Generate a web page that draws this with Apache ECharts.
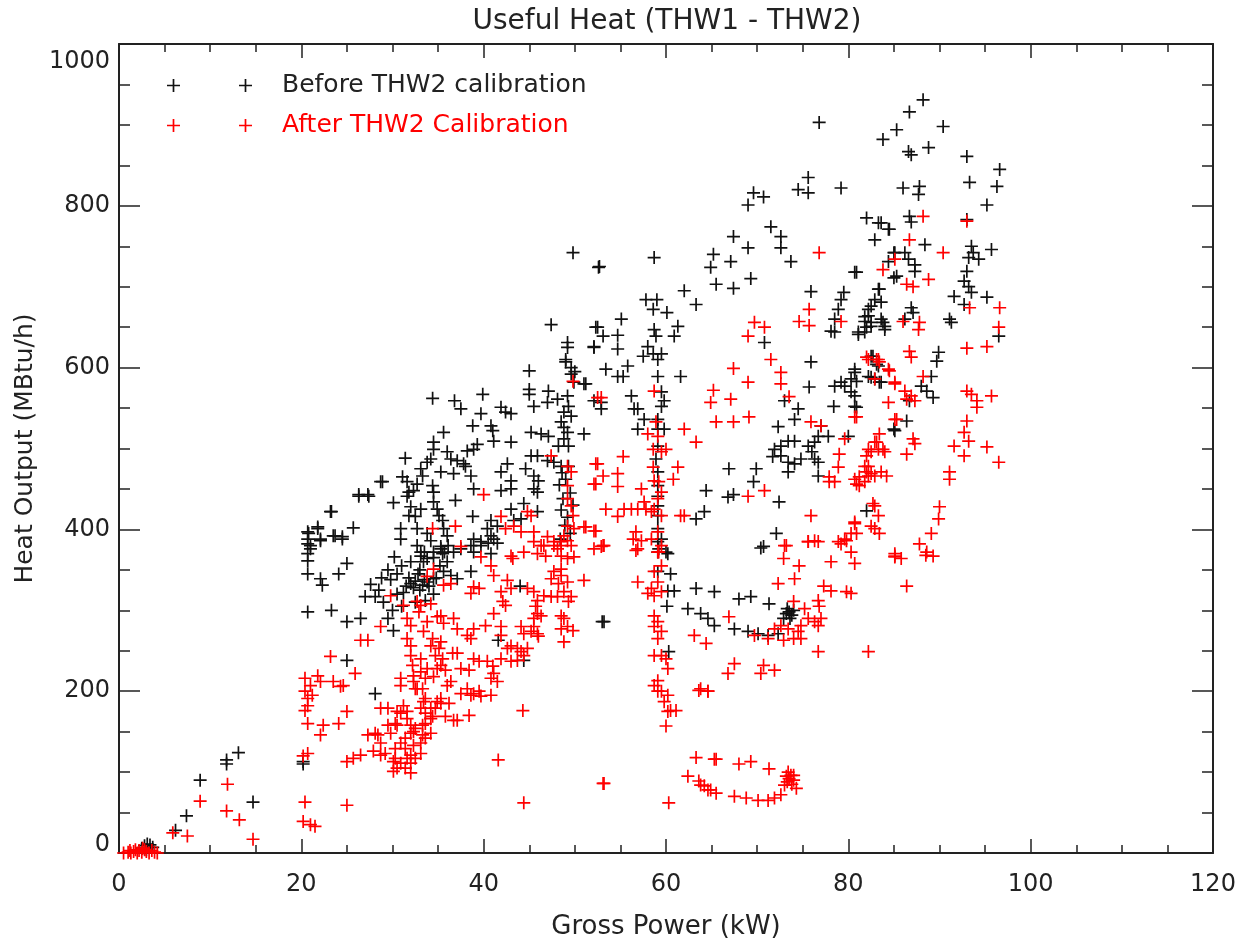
<!DOCTYPE html>
<html>
<head>
<meta charset="utf-8">
<script src="https://cdn.jsdelivr.net/npm/echarts@6/dist/echarts.min.js"></script>
<style>
html,body{margin:0;padding:0;background:#fff;}
#chart{width:1244px;height:945px;}
</style>
</head>
<body>
<div id="chart"></div>
<script>
// ---- data ----
const titleText = 'Useful Heat (THW1 - THW2)';
const xName = 'Gross Power (kW)';
const yName = 'Heat Output (MBtu/h)';
const seriesNames = ['Before THW2 calibration', 'After THW2 Calibration'];
const xTicks = [0, 20, 40, 60, 80, 100, 120];
const yTicks = [0, 200, 400, 600, 800, 1000];

const beforeData = [
[2.5,6],[2.8,9],[3.1,11],[3.4,10],[3.7,7],[3.0,4],
[6.2,28],[7.4,46],[8.9,90],[11.8,115],[11.8,110],[13.1,124],[14.7,63],[20.2,113],[20.2,110],
[25,238],[28.1,197],[20.7,298],[23.3,300],[20.7,345],[22.1,339],[22.3,331],[24.1,345],[25,358],[20.7,361],[20.7,370],[21,376],[20.7,382],[20.8,395],[21.8,401],[22.1,386],[23.3,422],[23.5,392],[24.5,388],[25.7,402],[26.3,443],[27.3,443],[28.9,459],[30.1,433],[30.9,401],[30.9,388],
[27,317],[28.1,317],[25,286],[26.5,290],[29.5,290],[30.1,275],
[31.5,330],[32,333],[32.3,328],[31.8,340],[32.5,336],[33,325],[31.2,322],[32.8,345],[33.5,338],[30.5,345],[31,355],[32,360],[33,350],[34,330],[34.5,320],[33.6,312],[32.5,310],[31,305],[30,300],[29,310],[28.5,325],[29.8,338],[30.5,320],[34.8,340],[35.2,355],[35.5,370],[36,360],[33.5,372],[34.5,365],[30.2,366],[29.5,350],[28.8,340],[27.6,332],
[33.1,367],[33.4,360],[33.8,364],[34.5,372],[35.3,376],[36.1,380],[36.7,372],[37.5,376],[38.6,380],[38.9,372],[39.7,380],[40.5,383],[40.8,370],[41.5,383],[35.6,348],[36.4,343],[37.1,339],[38.6,348],[34.5,339],[33.8,335],[33.3,331],
[44,330],[41.6,263],[44.4,238],[53,286],
[47.4,653],[52.3,650],[49.2,631],[49.2,625],[52.1,625],[49,610],[49,607],[45,596],[49.6,592],[51.2,580],[45,573],[45,567],[39.9,567],[34.4,562],[36.8,559],[37.5,549],[41.9,551],[43,543],[42.4,545],[39.7,543],[45.5,552],[47,557],[47.1,571],[48.1,561],[49.2,565],[49.3,552],[48.8,545],[49.6,540],[48.5,533],[48.8,526],[49.2,520],[48.8,512],[48.2,503],[49.3,503],[51,518],[45.2,520],[46.3,518],[47.1,515],[38.8,528],[40.8,528],[41,522],[35.6,520],[41.1,509],[43,508],[34.5,508],[34.5,499],[39.3,505],[38.9,499],[38.2,497],[36,496],[36.4,487],[37.1,485],[37.8,481],[31.4,488],[33.8,483],[34.2,487],[33.1,475],[33.3,466],[42.6,481],[45.2,491],[45.9,491],[47,485],[47.7,483],[48.5,478],[49.3,478],[41.9,471],[44.6,475],[45.5,466],[46,460],[35.3,471],[36.7,469],[38,478],[38.6,466],[31.1,465],[31.6,459],[28.7,459],[43,460],[38.9,450],[32.7,456],[32.3,448],[31.8,446],[31.6,441],[34.4,454],[34.5,446],[45.5,450],[45.9,446],[41.9,448],[43,450],[26.3,441],[27.4,441],[36.9,436],[34.5,434],[34.9,425],[32,428],[33.1,425],[23.2,422],[43,425],[44.4,432],[45.9,422],[31.8,417],[32.5,416],[35.1,417],[35.5,411],[38.8,416],[40.8,411],[41.5,404],[43.3,411],[44.1,413],[21.8,403],[20.7,397],[22.1,388],[20.7,388],[21,380],[23.7,392],[24.5,391],[32.7,401],[33.8,395],[34.2,386],[35.6,401],[36,392],[40.4,401],[40.8,392],[41.1,388],[39.7,385],[32.7,380],[33.1,372],[35.3,379],[35.7,372],[38.9,388],
[48.6,470],[49,462],[48.3,455],[49.5,445],[48.7,438],[49.8,430],[48.5,424],[49.2,415],[48.9,405],[49.5,395],[48.4,388],[49.9,582],[50,595],[49.6,600],
[59.2,376],[60.2,370],[59.1,348],[60.5,345],[60.2,324],[60.9,324],[63.3,327],[65.3,323],[60.1,305],[62.4,302],[63.8,296],[64.6,290],[65.3,281],[60.3,249],[70.4,377],[59.1,385],[60,372],[68,314],[69.3,317],[71.3,308],[67.5,277],[69,274],[70.1,271],[71.2,269],[72.3,271],[73.5,298],[73.3,302],[73.8,294],[73.6,290],[73.2,296],[74,300],[72.9,290],[53.2,286],
[71.5,774],[67.4,762],[72.6,762],[72.6,748],[69,748],[65.2,740],[64.9,724],[67.1,731],[73.7,731],[58.7,736],[52.6,724],[65.5,703],[67.4,698],[69.3,710],[62,695],[63.3,678],[57.8,684],[59,684],[58.6,672],[60.1,668],[55.1,660],[52.5,650],[53.1,639],[54.7,640],[52.1,626],[54.7,623],[58.7,647],[58.9,639],[61.3,651],[60.9,639],[58,626],
[57.5,614],[58.6,617],[59.5,617],[59.1,610],[53.4,598],[54.7,589],[55.3,589],[55.8,602],[59.1,589],[61.6,589],[51,580],[52.1,559],[52.9,557],[52.9,549],[56.2,565],[56.9,549],[56.5,549],[59.5,570],[59.8,559],[59.5,552],[57.6,536],[59.1,536],[56.9,524],[59.1,524],[59.8,524],[59.1,503],[58.9,487],
[59.1,471],[59.1,454],[59.1,441],[59.1,429],[59.1,417],[59.1,401],[59.5,388],[59.1,372],
[70.8,631],[75.9,694],[79.5,693],[79.2,684],[78.9,672],[78.5,660],[78.1,645],[78.5,644],[83.3,697],[82.9,684],[83.6,681],[82.5,676],[82.2,664],[81.8,657],[82.5,656],[83.6,660],[84,651],[81.1,641],[81.8,644],[80.7,718],[82.9,758],[84.4,771],[83.6,779],[85,742],[85,711],[75.9,607],
[82.5,614],[83.3,602],[82.2,589],[82.9,586],[83.6,582],[80.7,598],[80.3,586],[79.2,582],[79.6,577],[78.5,577],[80.3,570],[80.7,552],[78.4,552],
[75.7,576],[73,559],[74.5,549],[74.1,536],[72.3,527],[77,528],[77.8,515],[80,515],
[71.9,499],[72.6,503],[73.4,509],[74.1,509],[72.6,491],[71.7,490],[73.4,483],[74.1,481],[74.8,487],[75.6,503],[76.3,508],[76.7,515],[76,496],[76.3,487],[76.7,483],[73.4,471],[76.7,466],[66.9,475],[69.9,475],[69.6,459],[64.4,448],[67.4,443],[66.8,440],[72.4,434],[64.2,422],[63.3,413],[72.1,395],[70.7,379],[82,423],[85,524],
[88.2,931],[86.7,916],[85.3,894],[83.8,882],[90.4,898],[86.6,867],[86.9,863],[88.8,872],[93,861],[96.6,845],[93.3,829],[96.3,824],[86,822],[87.8,824],[87.7,814],[95.2,801],[82,785],[83.3,779],[84.5,771],[86.7,787],[86.9,780],[93,783],[88.4,752],[93.5,750],[93.7,742],[93.2,736],[94.3,734],[95.7,746],
[85.1,742],[84.4,731],[86.2,742],[86.6,734],[87.3,727],[87.3,719],[80.9,718],[85.3,713],[93,719],[92.7,707],[93.2,700],[93.5,693],[91.6,688],[92.7,678],[95.2,687],
[83.4,697],[82.2,672],[81.8,663],[82.5,651],[82,650],[83.8,656],[81.1,644],[84,647],
[86.9,674],[87.1,668],[86.2,660],[91.1,660],[91.3,656],[96.5,639],[89.9,619],[89.7,608],[82.7,614],[83.1,604],
[80.7,594],[80.9,583],[83.4,582],[82.5,588],[89.1,589],[88,577],[88.6,571],[89.3,563],[86.7,559],[80.7,565],[80.9,551],[86.4,534],[85.1,522],
[76.8,903],[75.6,835],[74.5,820],[75.6,816],[79.2,822],[69.6,816],[70.7,811],[69,801],[49.8,742],[52.7,725]
];

const afterData = [
[0.5,0],[1,1],[1.3,0],[1.6,2],[2,0],[2.2,3],[2.5,1],[2.8,4],[3,2],[3.3,0],[3.6,3],[3.9,1],[4.2,0],[1.8,4],[2.6,6],[1.2,3],
[5.9,25],[7.5,21],[8.9,64],[11.9,85],[11.8,52],[13.2,41],[14.7,17],[20.4,63],[20.2,39],[21,35],[21.5,33],[25,59],
[23.2,243],[26.5,263],[27.3,263],[25.9,222],[20.4,216],[20.4,200],[20.7,191],[20.7,182],[20.4,176],[20.7,160],
[21.8,219],[22.1,212],[21,207],[21.2,195],[23.5,212],[24.3,206],[24.6,207],[25,175],[24.1,160],[22.4,158],[22.1,146],[20.7,123],[20.2,120],
[28.7,179],[29.5,179],[30.5,175],[31.6,175],[31.2,182],[29.5,158],[30.5,158],[27.3,146],[28.4,146],
[26.5,121],[27.9,126],[28.7,121],[30.1,113],[30.1,101],[30.5,105],[31.6,117],[32,121],[32.3,133],[32.3,150],[32,158],[31.6,166],
[25,113],[25.7,117],
[29.8,318],[31.2,306],[31.6,290],[32,281],[28.7,280],
[31.6,265],[32,256],[32,244],[32.2,232],[32.3,219],[30.9,216],[30.9,207],[32.3,212],[32.7,203],[32.7,311],[32.9,298],
[30.3,117],[30.9,111],[31.4,105],[32,111],[32.5,117],[33.1,123],[32,99],[30.9,136],[31.4,142],[32,148],[32.5,154],[33.6,160],[34.2,166],[34.7,179],[35.3,191],[33.1,136],[31.4,129],[30.3,129],[29.2,123],[28.7,136],[28.1,148],[29.8,148],[30.3,160],[30.9,173],[33.6,142],[34.2,148],[33.1,179],[33.6,191],[32.5,203],
[49.8,583],[52.5,563],[47.4,491],[49.2,478],[49.6,471],[49.2,454],[49.2,438],[49.6,429],[49.8,417],[49.2,404],[48.8,392],[49.9,401],[49.6,380],[52.3,481],[52.3,456],[40,443],[41.9,416],[43.3,404],[42.4,401],
[44.8,422],[45.2,417],[34.4,401],[36.9,404],[37.5,379],[51,403],[52.1,398],
[45.5,397],[47,391],[47.7,385],[48.5,380],[46.3,380],[44.1,397],[43,367],[39.7,366],
[45.5,385],[46.6,380],[47.7,380],[48.5,385],[49.2,386],
[44.4,372],[45.9,370],[46.8,367],[48.1,376],[48.5,367],[49.2,364],[49.9,366],
[43.2,364],[40.8,355],[41.1,343],[38.9,329],[39.5,327],[38.6,321],[36.4,333],[35.6,331],[34.5,351],[33.8,342],
[42.6,337],[43,327],[41.9,323],[42.1,311],[42.4,306],[41.1,296],
[44.8,327],[45.5,323],[45.9,312],[45.7,305],[45.9,296],[46.3,293],[45.5,290],
[46.6,318],[47.4,317],[48.1,317],[48.8,323],[49.6,317],[49.3,311],[48.2,333],[48.5,343],[49.2,335],[51,337],
[48.5,351],[47.7,348],[47.4,339],
[48.5,293],[48.8,290],[49.2,280],[49.8,275],[48.5,277],[48.8,261],
[45.5,280],[45.9,271],[46,268],[45.2,274],
[44.1,280],[44.4,271],[42.6,253],[43.7,253],[43,256],
[41.9,280],[41.9,269],[40.2,281],[38.9,277],[38.2,269],[38.6,265],
[36.7,290],[37.1,277],[35.6,284],[34.9,292],
[33.1,306],[34.2,308],[35.3,293],[33.8,286],
[33.4,274],[34.4,265],[34.2,256],[35.1,253],[35.3,261],
[34.7,244],[35.5,240],[36.6,247],[37.1,247],
[33.1,240],[33.1,224],[33.8,228],[34.9,228],[35.3,232],[35.8,226],
[37.5,228],[38.4,226],[38.9,240],[39.5,237],[40.4,237],[41,231],[41.1,222],[41.5,212],[40.8,216],
[41.9,240],[43,237],[43.7,238],[44.1,249],[44.4,244],[44.8,253],
[33.6,216],[33.3,203],[34.5,218],[36,207],[36.4,212],
[38.2,203],[38.6,195],[38.9,197],[39.5,200],[39.7,194],[37.5,197],[40.8,195],
[33.4,187],[34.2,179],[34.9,187],[35.3,185],[36.2,185],[35.8,169],[36.7,164],[37.1,164],[38.4,170],[33.6,173],[33.3,158],[34.4,169],[33.3,146],
[44.3,176],[41.6,115],[44.4,62],[53.1,86],[52.1,376],[53.1,380],[56.9,335],[56.9,376],
[59.2,372],[59.5,355],[58.7,348],[59.1,335],[58.4,327],[59.5,323],[58.7,318],[58,321],[58.7,293],[59.1,286],[58.7,280],[59.5,274],[59.1,265],[59.5,244],[58.7,244],[60,240],[60.2,228],[59.1,213],[58.7,207],[59.5,200],[59.1,200],[60.2,195],[59.8,187],[60.5,176],[60.2,175],[61.1,176],[60,157],
[60.3,62],[63.1,269],[64.4,259],[63.6,201],[64.6,200],[63.3,118],[65.3,116],
[62.4,95],[63.6,89],[64.2,83],[64.9,78],[65.5,74],
[72.9,364],[73.2,380],[74.6,355],[75.6,385],[76.7,385],[78.1,360],[79.2,382],[79.8,386],[80.3,372],[80.7,358],[85.1,366],
[72.3,333],[74.1,339],[77.3,330],[78.1,324],[79.8,323],[80.3,321],
[74,311],[75.2,302],[76.7,312],[76.8,305],[75.6,290],[76.3,286],[77,290],[76.7,281],[74.8,281],[74.5,274],
[66.9,292],[69.7,269],[71.2,265],[71.9,277],[72.9,263],[74,265],[74.8,265],[72.6,281],[73.4,277],
[76.7,249],[82.2,249],[67.5,234],[66.8,222],[70.7,232],[70.4,222],[71.9,226],[63.8,203],[64.6,200],
[65.5,116],[68,110],[69.3,113],[71.3,104],
[63.8,84],[64.6,78],[67.5,70],[68.8,68],[70.1,65],[71.2,65],[71.9,68],[72.6,72],
[73.5,92],[73.3,88],[73.7,96],[73.4,100],[73.8,85],[73.2,95],[74,90],[74,96],[74.3,80],[73,84],
[53.2,86],
[88.2,787],[93,781],[86.7,758],[90.4,742],[85.1,734],[83.8,721],[88.8,709],[86.4,703],[87.1,700],[93.3,674],[96.6,674],[86,657],[87.8,656],[87.7,647],[96.5,650],[93,624],[95.2,626],[86.7,620],[86.9,613],
[82,613],[83.1,610],[83.4,607],[84.4,598],[85.1,582],[86.2,571],[86.9,565],[86.4,561],[87.3,559],[88.2,589],[84.4,557],
[93,571],[93.5,567],[94.1,559],[94.1,551],[95.7,565],[80.7,539],[85.3,536],
[93,534],[92.7,520],[93.2,509],[91.6,503],[92.7,491],[95.2,502],[96.5,483],
[83.4,518],[83.1,508],[83.8,499],[82.2,499],[82,491],[81.8,478],[82,471],[82.5,469],[83.6,471],[84.2,466],[81.2,465],[80.9,456],
[87.1,512],[87.3,506],[86.4,493],[91.1,471],[91.1,462],
[82.7,432],[83.3,417],[82.5,404],[83.4,395],[80.7,409],[80.9,395],
[90,428],[89.9,413],[89.1,395],[87.8,382],[88.6,372],[89.3,367],[85.1,367],
[76.8,742],[75.7,672],[74.6,657],[75.7,652],[79.2,657],[69.7,656],[70.8,650],[69,639],[71.5,610],[72.6,594],[72.6,580],[67.4,599],[69,582],[65.2,572],[64.9,557],[67.1,561],[73.5,564],[65.5,533],[67.4,533],[69.1,539],[75.9,533],[77,528],[80.9,539],[82.2,610],[83.3,610],[84.5,596],[85.1,580],[85.1,536],[82.9,586],[62,524],[63.3,508],
[58.7,571],[58.9,533],[59.1,515],[60,499],[58.6,499],[59.5,496],
[52.9,563],[58,518],[61.3,477],[60.8,462],[55.3,490],[52.5,481],[53.1,466],[54.7,469],[52.1,456],[54.7,453],
[58.6,477],[58.7,460],[59.2,459],[59.5,446],[59.1,438],[58.7,425],[58.4,422],[59.5,417],[59.1,397],[58.4,388],[59.5,380],[59.1,372],
[57.3,450],[57.6,434],[56.9,425],[57.8,425],[53.4,425],[54.7,416],[55.4,425],[56.2,425],[61.6,417],[62,417],
[51.2,403],[52.3,398],[52.9,379],[53.2,380],[56.7,397],[57.3,386],[56.4,388],[56.7,374],
[69,441],[70.8,448],
[79.6,512],[79,493],[78.9,477],[77.9,459],[78.5,459],[77.9,465],[80.7,462],
[82.9,508],[83.3,499],[82.5,496],[84,496],[82.2,478],[82.2,466],[82.9,466],[81.8,459],[81.2,454],
[75.9,417],[80.7,407],[80.3,395],[79.6,388],[78.9,385],[76.3,386],[75.6,385],[73,380],
[82.9,429],[82.9,401],[85.1,370],[86.4,330],[85.8,364],[88.5,368]
];

// ---- chart ----
const FONT = 'DejaVu Sans';
const TXT = '#222';
const cross = 'path://M5.65,0H7.35V5.65H13V7.35H7.35V13H5.65V7.35H0V5.65H5.65Z';
const crossPair = 'path://M5.65,0H7.35V5.65H13V7.35H7.35V13H5.65V7.35H0V5.65H5.65Z M77.65,0H79.35V5.65H85V7.35H79.35V13H77.65V7.35H72V5.65H77.65Z';

function xAxisCfg(pos, withLabels) {
  return {
    type: 'value', position: pos, min: xTicks[0], max: xTicks[xTicks.length-1], interval: 20,
    name: withLabels ? xName : '', nameLocation: 'middle', nameGap: 61,
    nameTextStyle: {fontFamily: FONT, fontSize: 26, color: TXT},
    axisLine: {show: true, onZero: false, lineStyle: {color: TXT, width: 2}},
    axisTick: {show: true, inside: true, length: 14, lineStyle: {color: TXT, width: 1.5}},
    minorTick: {show: true, splitNumber: 4, length: 8, lineStyle: {color: TXT, width: 1.5}},
    splitLine: {show: false}, minorSplitLine: {show: false},
    axisLabel: {show: withLabels, fontFamily: FONT, fontSize: 24, color: TXT, margin: 20}
  };
}
function yAxisCfg(pos, withLabels) {
  const rs = {fontFamily: FONT, fontSize: 24, color: TXT};
  return {
    type: 'value', position: pos, min: yTicks[0], max: yTicks[yTicks.length-1], interval: 200,
    name: withLabels ? yName : '', nameLocation: 'middle', nameGap: 79, nameRotate: 90,
    nameTextStyle: {fontFamily: FONT, fontSize: 25, color: TXT},
    axisLine: {show: true, onZero: false, lineStyle: {color: TXT, width: 2}},
    axisTick: {show: true, inside: true, length: 21, lineStyle: {color: TXT, width: 1.5}},
    minorTick: {show: true, splitNumber: 4, length: 11, lineStyle: {color: TXT, width: 1.5}},
    splitLine: {show: false}, minorSplitLine: {show: false},
    axisLabel: {
      show: withLabels, fontFamily: FONT, fontSize: 24, color: TXT, margin: 9,
      formatter: function (v) {
        if (v === yTicks[yTicks.length-1]) return '{t|' + v + '}';
        if (v === yTicks[0]) return '{b|' + v + '}';
        return String(v);
      },
      rich: {
        t: Object.assign({padding: [36, 0, 0, 0]}, rs),
        b: Object.assign({padding: [0, 0, 16, 0]}, rs)
      }
    }
  };
}

const chart = echarts.init(document.getElementById('chart'), null, {renderer: 'canvas'});
chart.setOption({
  animation: false,
  backgroundColor: '#fff',
  title: {
    text: titleText, left: 662, top: 3, textAlign: 'center',
    textStyle: {fontFamily: FONT, fontSize: 28, fontWeight: 'normal', color: TXT}
  },
  grid: {left: 119, right: 31, top: 44, bottom: 90, containLabel: false},
  legend: {
    orient: 'vertical', left: 162, top: 68,
    itemWidth: 85, itemHeight: 13, itemGap: 15,
    icon: crossPair,
    selectedMode: false,
    textStyle: {fontFamily: FONT, fontSize: 25, padding: [0, 0, 0, 25]},
    data: [
      {name: seriesNames[0], textStyle: {color: TXT}},
      {name: seriesNames[1], textStyle: {color: '#ff0000'}}
    ]
  },
  xAxis: [xAxisCfg('bottom', true), xAxisCfg('top', false)],
  yAxis: [yAxisCfg('left', true), yAxisCfg('right', false)],
  series: [
    {
      name: seriesNames[0], type: 'scatter', xAxisIndex: 0, yAxisIndex: 0,
      symbol: cross, symbolSize: 13, data: beforeData,
      itemStyle: {color: '#111', opacity: 1},
      emphasis: {disabled: true}
    },
    {
      name: seriesNames[1], type: 'scatter', xAxisIndex: 0, yAxisIndex: 0,
      symbol: cross, symbolSize: 13, data: afterData,
      itemStyle: {color: '#ff0000', opacity: 1},
      emphasis: {disabled: true}
    }
  ]
});
</script>
</body>
</html>
